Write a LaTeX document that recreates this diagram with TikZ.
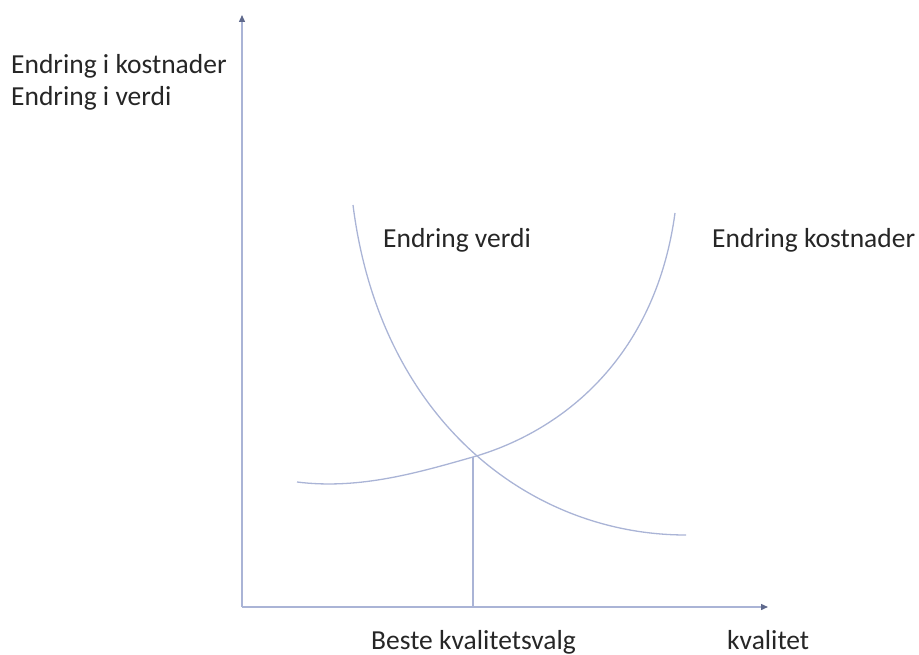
\documentclass[tikz,border=0pt]{standalone}
\usepackage{fontspec}
\setmainfont{Carlito}
\usetikzlibrary{arrows.meta}
\definecolor{curve}{RGB}{170,180,214}
\definecolor{tipc}{RGB}{95,105,140}
\begin{document}
\begin{tikzpicture}[x=1pt,y=-1pt,
  lbl/.style={font=\fontsize{27.5}{30}\selectfont, text=black!85, inner sep=0pt, anchor=base west},
  crv/.style={draw=curve, line width=1.3pt},
  axis/.style={draw=curve, line width=1.4pt, -{Triangle[length=7pt,width=6pt,color=tipc]}}]
\useasboundingbox (0,0) rectangle (919,655);
\coordinate (O) at (242,607);
\coordinate (Ytip) at (242,15);
\coordinate (Xtip) at (768,607);
\coordinate (X) at (473,457);
\coordinate (Xb) at (473,607);
\draw[axis] (O) -- (Ytip);
\draw[axis] (O) -- (Xtip);
\draw[crv] (X) -- (Xb);
\draw[crv] (297,482) .. controls (360,490) and (420,472) .. (X) .. controls (560,432) and (655,360) .. (675,213);
\draw[crv] (353,205) .. controls (380,420) and (530,535) .. (686,535);
\node[lbl] (l1) at (11,74) {Endring i kostnader};
\node[lbl] (l2) at (11,106) {Endring i verdi};
\node[lbl] (lv) at (383,248) {Endring verdi};
\node[lbl] (lk) at (712,248) {Endring kostnader};
\node[lbl] (lb) at (371,649) {Beste kvalitetsvalg};
\node[lbl] (lq) at (727,649) {kvalitet};
\end{tikzpicture}
\end{document}
